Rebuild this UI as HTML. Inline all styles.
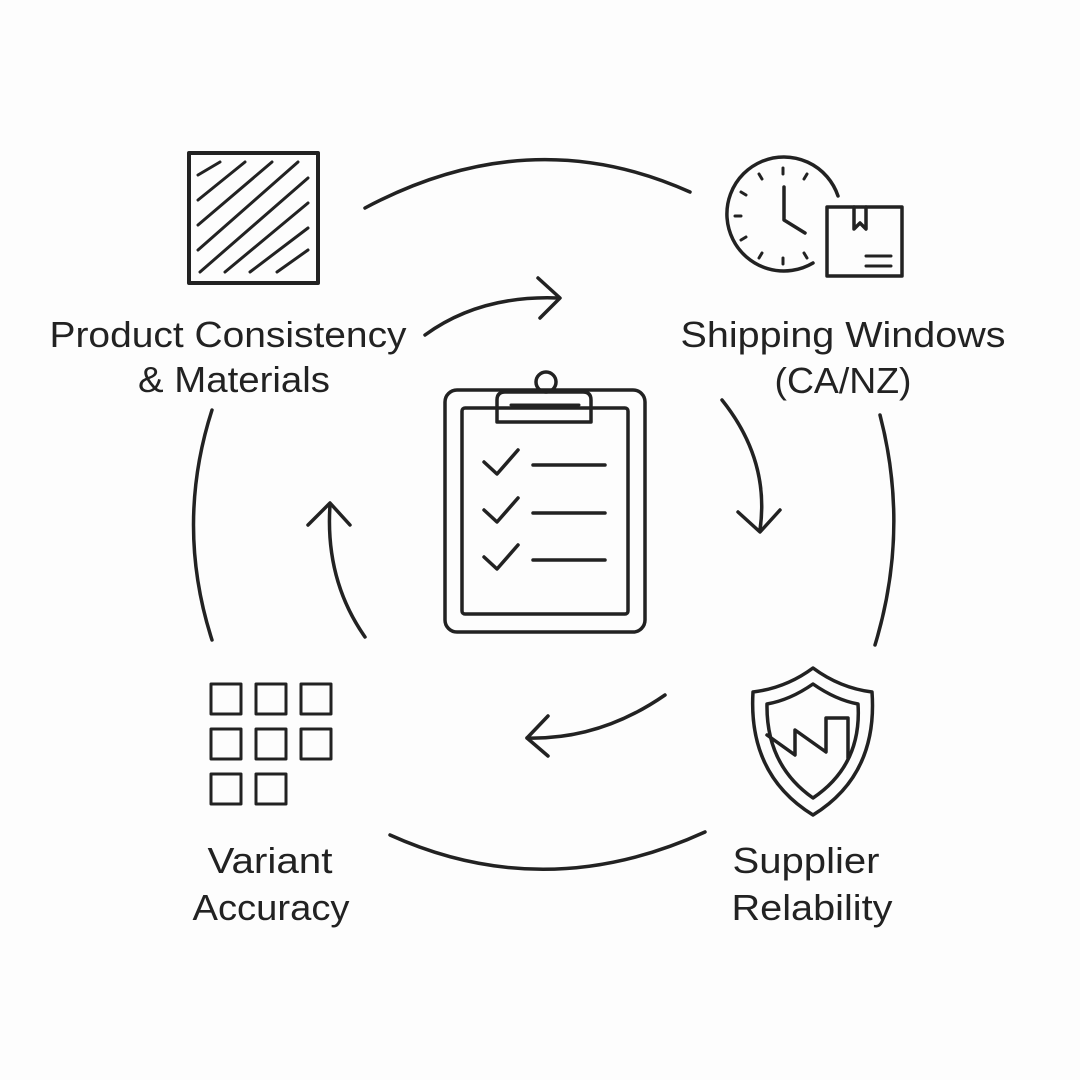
<!DOCTYPE html>
<html><head><style>body{margin:0;background:#fdfdfd}svg{display:block}text{font-family:"Liberation Sans",sans-serif;font-size:36px;fill:#222;text-anchor:middle}</style></head><body>
<svg width="1080" height="1080" viewBox="0 0 1080 1080" fill="none" stroke="#222" stroke-width="3.5" stroke-linecap="round" stroke-linejoin="round">
<rect width="1080" height="1080" fill="#fdfdfd" stroke="none"/>
<path d="M365 208 Q530 120 690 192"/>
<path d="M212 410 Q175 525 212 640"/>
<path d="M880 415 Q910 530 875 645"/>
<path d="M390 835 Q545 905 705 832"/>
<path d="M425 335 Q480 295 558 298"/><path d="M538 278 L560 298 L540 318"/>
<path d="M722 400 Q770 460 760 530"/><path d="M738 512 L760 532 L780 510"/>
<path d="M665 695 Q600 740 527 738"/><path d="M548 716 L527 738 L548 756"/>
<path d="M365 637 Q325 580 330 505"/><path d="M308 525 L330 503 L350 525"/>
<rect x="189" y="153" width="129" height="130" stroke-width="4"/>
<g stroke-width="3">
<path d="M198 175 L220 162"/><path d="M198 200 L245 162"/><path d="M198 225 L272 162"/><path d="M198 250 L298 162"/><path d="M200 272 L308 178"/><path d="M225 272 L308 203"/><path d="M250 272 L308 228"/><path d="M277 272 L308 250"/>
</g>
<path d="M838 196 A57 57 0 1 0 813 263"/>
<path d="M784 187 V220 L805 233"/>
<g stroke-width="3"><path d="M783 168v6"/><path d="M759 174l3 5"/><path d="M741 192l5 3"/><path d="M735 216h6"/><path d="M741 240l5 -3"/><path d="M759 258l3 -5"/><path d="M783 264v-6"/><path d="M807 174l-3 5"/><path d="M807 258l-3 -5"/></g>
<rect x="827" y="207" width="75" height="69"/>
<path d="M854 207 V229 L860 223 L866 229 V207"/><path d="M866 256h25M866 266h25" stroke-width="3"/>
<rect x="445" y="390" width="200" height="242" rx="12"/>
<rect x="462" y="408" width="166" height="206" rx="3"/>
<path d="M497 422 V400 Q497 392 505 392 H583 Q591 392 591 400 V422 Z"/>
<circle cx="546" cy="382" r="10"/>
<path d="M511 405 H579" stroke-width="3"/>
<path d="M484 462 L497 474 L518 450"/><path d="M533 465 H605"/>
<path d="M484 510 L497 522 L518 498"/><path d="M533 513 H605"/>
<path d="M484 557 L497 569 L518 545"/><path d="M533 560 H605"/>
<g stroke-width="3">
<rect x="211" y="684" width="30" height="30"/><rect x="256" y="684" width="30" height="30"/><rect x="301" y="684" width="30" height="30"/>
<rect x="211" y="729" width="30" height="30"/><rect x="256" y="729" width="30" height="30"/><rect x="301" y="729" width="30" height="30"/>
<rect x="211" y="774" width="30" height="30"/><rect x="256" y="774" width="30" height="30"/>
</g>
<path d="M813 668 Q840 688 872 692 Q878 775 813 815 Q748 775 753 692 Q786 688 813 668 Z"/>
<path d="M813 684 Q836 700 858 704 Q862 765 813 798 Q766 765 767 704 Q790 700 813 684 Z"/>
<path d="M767 735 L795 755 V730 L826 752 V718 H848 V758"/>
<g stroke="none">
<text x="228" y="347" textLength="357" lengthAdjust="spacingAndGlyphs">Product Consistency</text>
<text x="234" y="392" textLength="192" lengthAdjust="spacingAndGlyphs">&amp; Materials</text>
<text x="843" y="347" textLength="325" lengthAdjust="spacingAndGlyphs">Shipping Windows</text>
<text x="843" y="393" textLength="137" lengthAdjust="spacingAndGlyphs">(CA/NZ)</text>
<text x="270" y="873" textLength="125" lengthAdjust="spacingAndGlyphs">Variant</text>
<text x="271" y="920" textLength="157" lengthAdjust="spacingAndGlyphs">Accuracy</text>
<text x="806" y="873" textLength="147" lengthAdjust="spacingAndGlyphs">Supplier</text>
<text x="812" y="920" textLength="161" lengthAdjust="spacingAndGlyphs">Relability</text>
</g>
</svg>
</body></html>
